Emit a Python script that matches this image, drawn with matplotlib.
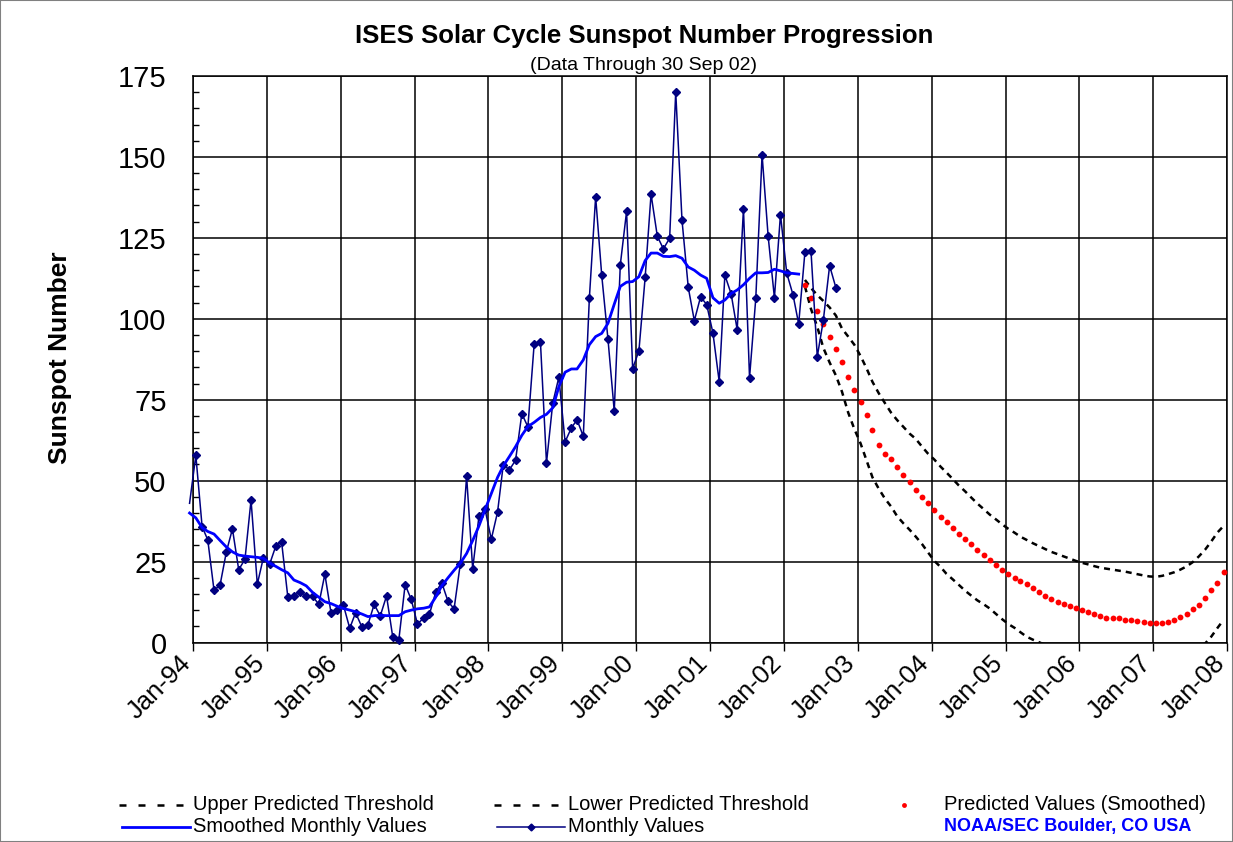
import numpy as np
import pandas as pd
import matplotlib
matplotlib.use("Agg")
import matplotlib.pyplot as plt
import matplotlib.dates as mdates
import matplotlib.transforms as mtransforms
from matplotlib.lines import Line2D
from matplotlib.ticker import MultipleLocator

plt.rcParams['font.family'] = ['Liberation Sans', 'DejaVu Sans']

# ---------------- data ----------------
title = "ISES Solar Cycle Sunspot Number Progression"
subtitle = "(Data Through 30 Sep 02)"

# observed monthly sunspot numbers, Dec-1993 .. Sep-2002
monthly_start = "1993-12"
monthly_values = [
    43.0,
    57.8, 35.8, 31.7, 16.1, 17.8, 28.0, 35.1, 22.5, 25.7, 44.0, 18.0, 26.2,
    24.2, 29.9, 31.1, 14.0, 14.5, 15.6, 14.5, 14.3, 11.8, 21.1, 9.0, 10.0,
    11.5, 4.4, 9.2, 4.8, 5.5, 11.8, 8.2, 14.4, 1.6, 0.9, 17.9, 13.3,
    5.7, 7.6, 8.7, 15.5, 18.5, 12.7, 10.4, 24.4, 51.3, 22.8, 39.0, 41.2,
    31.9, 40.3, 54.8, 53.4, 56.3, 70.7, 66.6, 92.2, 92.9, 55.5, 74.0, 81.9,
    62.0, 66.3, 68.8, 63.7, 106.4, 137.7, 113.5, 93.7, 71.5, 116.7, 133.2, 84.6,
    90.1, 112.9, 138.5, 125.5, 121.6, 124.9, 170.1, 130.5, 109.7, 99.4, 106.8, 104.4,
    95.6, 80.6, 113.5, 107.7, 96.6, 134.0, 81.8, 106.4, 150.7, 125.5, 106.5, 132.2,
    114.1, 107.4, 98.4, 120.7, 120.8, 88.3, 99.6, 116.4, 109.6,
]

# 13-month smoothed values, Dec-1993 .. Mar-2002
smoothed_start = "1993-12"
smoothed_values = [
    40.0,
    38.5, 35.5, 34.3, 33.5, 31.5, 29.5, 28.0, 27.0, 26.7, 26.5, 26.3, 26.0,
    24.5, 23.5, 22.5, 21.5, 19.3, 18.5, 17.5, 15.5, 14.0, 12.6, 12.0, 11.2,
    10.5, 10.0, 9.5, 8.8, 8.0, 8.3, 8.4, 8.3, 8.3, 8.3, 9.5, 10.0,
    10.4, 10.6, 11.0, 14.0, 17.5, 20.0, 22.3, 24.5, 27.5, 31.5, 36.0, 41.0,
    46.0, 51.0, 54.5, 57.5, 60.5, 64.0, 66.7, 68.0, 69.5, 70.5, 72.5, 79.0,
    83.5, 84.5, 84.5, 87.3, 92.0, 94.5, 95.5, 98.6, 104.5, 110.0, 111.3, 111.5,
    113.0, 118.0, 120.3, 120.3, 119.3, 119.2, 119.5, 118.7, 116.0, 115.0, 113.5, 112.5,
    106.5, 104.8, 105.8, 107.8, 108.9, 110.5, 112.5, 114.2, 114.2, 114.3, 115.3, 114.8,
    114.2, 114.0, 113.8,
]

# predictions, Apr-2002 .. Dec-2007
predicted_start = "2002-04"
predicted_values = [
    110.4, 106.5, 102.4, 98.3, 94.5, 90.7, 86.5, 82.0, 78.0,
    74.3, 70.3, 65.5, 61.0, 58.2, 56.6, 54.1, 51.8, 49.7, 47.1, 45.0, 43.0,
    41.0, 38.9, 37.2, 35.4, 33.5, 31.9, 30.3, 28.6, 27.0, 25.5, 24.0, 22.4,
    21.2, 20.0, 19.1, 18.0, 16.7, 15.5, 14.5, 13.4, 12.6, 11.8, 11.4, 10.8,
    10.0, 9.5, 8.9, 8.3, 7.7, 7.5, 7.5, 7.1, 6.8, 6.5, 6.3, 5.9,
    5.9, 5.9, 6.3, 6.9, 7.8, 8.8, 10.2, 11.6, 13.9, 16.2, 18.5, 21.9,
]
upper_values = [
    112.0, 109.5, 107.3, 105.5, 103.5, 101.0, 97.0, 94.5, 92.0,
    88.5, 84.5, 80.5, 77.0, 74.0, 71.0, 68.7, 66.6, 64.5, 62.9, 60.5, 58.3,
    56.5, 54.3, 52.5, 50.5, 48.5, 46.7, 44.8, 42.9, 41.2, 39.5, 38.0, 36.5,
    35.1, 33.9, 32.7, 31.7, 30.7, 29.8, 28.9, 28.0, 27.3, 26.6, 25.9, 25.2,
    24.6, 24.1, 23.6, 23.1, 22.8, 22.5, 22.2, 21.9, 21.5, 21.1, 20.7, 20.4,
    20.3, 20.6, 21.1, 21.7, 22.5, 23.5, 24.8, 26.6, 28.7, 31.2, 34.0, 36.0,
]
lower_values = [
    110.0, 103.0, 97.5, 91.0, 86.5, 82.5, 77.5, 71.0, 66.0,
    61.5, 56.0, 51.0, 47.5, 44.5, 42.0, 39.0, 36.8, 34.8, 32.7, 30.4, 27.8,
    25.2, 23.3, 21.2, 19.5, 17.8, 16.0, 14.5, 13.0, 11.8, 10.5, 8.8, 7.2,
    5.7, 4.5, 3.2, 1.8, 0.9, 0.1, -0.7, -1.5, -2.2, -2.9, -3.6, -4.3,
    -5.0, -5.5, -6.0, -6.5, -7.0, -7.4, -7.6, -7.8, -8.0, -8.2, -8.3, -8.4,
    -8.5, -8.6, -8.0, -7.0, -5.8, -4.6, -3.2, -1.9, -0.3, 1.8, 4.5, 7.0,
]

y_ticks = [0, 25, 50, 75, 100, 125, 150, 175]
x_first_year, x_last_year = 1994, 2008

legend_labels = ["Upper Predicted Threshold", "Lower Predicted Threshold",
                 "Predicted Values (Smoothed)", "Smoothed Monthly Values",
                 "Monthly Values"]
credit = "NOAA/SEC Boulder, CO USA"


def mid_month_dates(start, n):
    return pd.date_range(start + "-01", periods=n, freq="MS") + pd.Timedelta(days=14)


# ---------------- figure ----------------
W, H = 1233, 842
fig = plt.figure(figsize=(W / 100, H / 100), dpi=100)
fig.patch.set_facecolor("white")
ax = fig.add_axes([193 / W, 199.5 / H, (1227 - 193) / W, (642.5 - 76) / H])

d_mon = mid_month_dates(monthly_start, len(monthly_values))
d_smo = mid_month_dates(smoothed_start, len(smoothed_values))
d_pre = mid_month_dates(predicted_start, len(predicted_values))

dash = (0, (2.4, 2.0))
ax.plot(d_pre, upper_values, color="black", lw=1.8, linestyle=dash, zorder=3)
ax.plot(d_pre, lower_values, color="black", lw=1.8, linestyle=dash, zorder=3)
ax.plot(d_pre, predicted_values, linestyle="none", marker="o", ms=4.2,
        mfc="#ff0000", mec="none", zorder=4)
ax.plot(d_mon, monthly_values, color="#000080", lw=1.1, marker="D", ms=4.4,
        mfc="#000080", mec="#000080", markevery=list(range(1, len(monthly_values))),
        clip_on=False, zorder=5)
ax.plot(d_smo, smoothed_values, color="#0000ff", lw=2.0, clip_on=False, zorder=6)

ax.set_xlim(pd.Timestamp(f"{x_first_year}-01-01"), pd.Timestamp(f"{x_last_year}-01-01"))
ax.set_ylim(y_ticks[0], y_ticks[-1])

ax.xaxis.set_major_locator(mdates.YearLocator(1))
ax.xaxis.set_major_formatter(mdates.DateFormatter("%b-%y"))
ax.set_yticks(y_ticks)
ax.yaxis.set_minor_locator(MultipleLocator(5))

ax.grid(True, which="major", color="black", lw=1.1)
ax.set_axisbelow(True)
for s in ax.spines.values():
    s.set_color("black")
    s.set_linewidth(1.1)

ax.tick_params(axis="x", which="major", direction="out", length=6, width=1.0,
               labelsize=18.5, pad=5)
ax.tick_params(axis="y", which="major", direction="in", length=0, labelsize=21, pad=19)
ax.tick_params(axis="y", which="minor", direction="in", length=4.5, width=1.0)
shift = mtransforms.ScaledTranslation(-6 / 100, -2 / 100, fig.dpi_scale_trans)
for lab in ax.get_xticklabels():
    lab.set_rotation(45)
    lab.set_ha("right")
    lab.set_va("center")
    lab.set_rotation_mode("anchor")
    lab.set_transform(lab.get_transform() + shift)

# titles
fig.text(644 / W, 1 - 36 / H, title, ha="center", va="center",
         fontsize=18.5, fontweight="bold")
fig.text(644 / W, 1 - 65 / H, subtitle, ha="center", va="center", fontsize=14)
fig.text(60 / W, 1 - 358 / H, "Sunspot Number", ha="center", va="center",
         rotation=90, fontsize=19, fontweight="bold")

# legend (drawn manually in figure pixel coordinates)
def fx(x):
    return x / W


def fy(y):
    return 1 - y / H


r1, r2 = 805, 827
lfs = 14.5
ldash = (0, (2.8, 4.8))
fig.add_artist(Line2D([fx(119), fx(190)], [fy(r1), fy(r1)], color="black", lw=1.8, linestyle=ldash))
fig.text(fx(193), fy(r1), legend_labels[0], fontsize=lfs, va="center", ha="left")
fig.add_artist(Line2D([fx(494), fx(565)], [fy(r1), fy(r1)], color="black", lw=1.8, linestyle=ldash))
fig.text(fx(568), fy(r1), legend_labels[1], fontsize=lfs, va="center", ha="left")
fig.add_artist(Line2D([fx(904)], [fy(r1)], marker="o", ms=3.5, mfc="#ff0000", mec="none", linestyle="none"))
fig.text(fx(944), fy(r1), legend_labels[2], fontsize=lfs, va="center", ha="left")
fig.add_artist(Line2D([fx(122), fx(190)], [fy(r2), fy(r2)], color="#0000ff", lw=2.0))
fig.text(fx(193), fy(r2), legend_labels[3], fontsize=lfs, va="center", ha="left")
fig.add_artist(Line2D([fx(497), fx(565)], [fy(r2), fy(r2)], color="#000080", lw=1.1))
fig.add_artist(Line2D([fx(531)], [fy(r2)], marker="D", ms=3.5, mfc="#000080", mec="#000080", linestyle="none"))
fig.text(fx(568), fy(r2), legend_labels[4], fontsize=lfs, va="center", ha="left")
fig.text(fx(944), fy(r2), credit, fontsize=13, fontweight="bold", color="#0000ff",
         va="center", ha="left")

# outer border
fig.add_artist(plt.Rectangle((0, 0), 1, 1, transform=fig.transFigure, fill=False,
                             edgecolor="#808080", lw=1.5))

fig.savefig("out.png", dpi=100)
